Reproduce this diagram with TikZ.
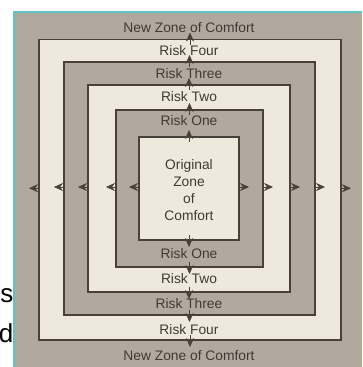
\documentclass[tikz,border=0pt]{standalone}
\usepackage{fontspec}
\setmainfont{Liberation Sans}
\usetikzlibrary{arrows.meta}

\definecolor{band}{HTML}{B2A99E}
\definecolor{paper}{HTML}{EFE8DC}
\definecolor{ink}{HTML}{48413B}
\definecolor{labelink}{HTML}{3F3A35}
\definecolor{teal}{HTML}{5FC3C3}

\tikzset{
  zone/.style={draw=ink, line width=1.2pt, inner sep=0pt, outer sep=0pt, rectangle},
  darkzone/.style={zone, fill=band},
  lightzone/.style={zone, fill=paper},
  lbl/.style={font=\fontsize{13.8}{16}\selectfont, text=labelink, inner sep=0pt, fill=none},
  outarrow/.style={draw=ink, line width=0.8pt, -{Stealth[length=9pt, width=8pt, inset=3pt, line width=0.5pt]}},
  sidetext/.style={font=\fontsize{26}{30}\selectfont, text=black, inner sep=0pt, anchor=base east}
}

\begin{document}
\begin{tikzpicture}[x=1pt, y=-1pt]
  \useasboundingbox (0,0) rectangle (362,367);
  \fill[white] (0,0) rectangle (362,367);

  % letters of the neighbouring slide text beside the frame
  \node[sidetext] (s1) at (13.5,302) {s};
  \node[sidetext] (s2) at (13.5,342) {d};

  % page background and teal frame
  \fill[band] (14,12) rectangle (362,367);
  \draw[teal, line width=2pt] (14,367) -- (14,12) -- (362,12);

  % nested zones, outermost first
  \node[lightzone, minimum width=302pt, minimum height=300.5pt] (r4) at (190,189.75) {};
  \node[darkzone,  minimum width=251pt, minimum height=253pt]   (r3) at (189.5,188.5) {};
  \node[lightzone, minimum width=202pt, minimum height=207pt]   (r2) at (189,188.5) {};
  \node[darkzone,  minimum width=147pt, minimum height=157pt]   (r1) at (189.5,188.5) {};
  \node[lightzone, minimum width=100pt, minimum height=103pt]   (r0) at (189,188.5) {};

  % outward arrows across every boundary
  \foreach \r in {r0,r1,r2,r3,r4} {
    \draw[outarrow] ([yshift=-5pt]\r.north) -- ([yshift=7pt]\r.north);
    \draw[outarrow] ([yshift=5pt]\r.south) -- ([yshift=-7pt]\r.south);
    \draw[outarrow] ([xshift=1pt,yshift=1.5pt]\r.west) -- ([xshift=-10pt,yshift=1.5pt]\r.west);
    \draw[outarrow] ([xshift=-1pt,yshift=1.5pt]\r.east) -- ([xshift=10pt,yshift=1.5pt]\r.east);
  }

  % labels
  \node[lbl, align=center] (orig) at (189,190)
    {Original\\[1.2pt]Zone\\[1.2pt]of\\[1.2pt]Comfort};

  \node[lbl] (tnew)   at (189,28)  {New Zone of Comfort};
  \node[lbl] (tfour)  at (189,51)  {Risk Four};
  \node[lbl] (tthree) at (189,74)  {Risk Three};
  \node[lbl] (ttwo)   at (189,97)  {Risk Two};
  \node[lbl] (tone)   at (189,121) {Risk One};

  \node[lbl] (bone)   at (189,254) {Risk One};
  \node[lbl] (btwo)   at (189,279) {Risk Two};
  \node[lbl] (bthree) at (189,304) {Risk Three};
  \node[lbl] (bfour)  at (189,330) {Risk Four};
  \node[lbl] (bnew)   at (189,356) {New Zone of Comfort};
\end{tikzpicture}
\end{document}
